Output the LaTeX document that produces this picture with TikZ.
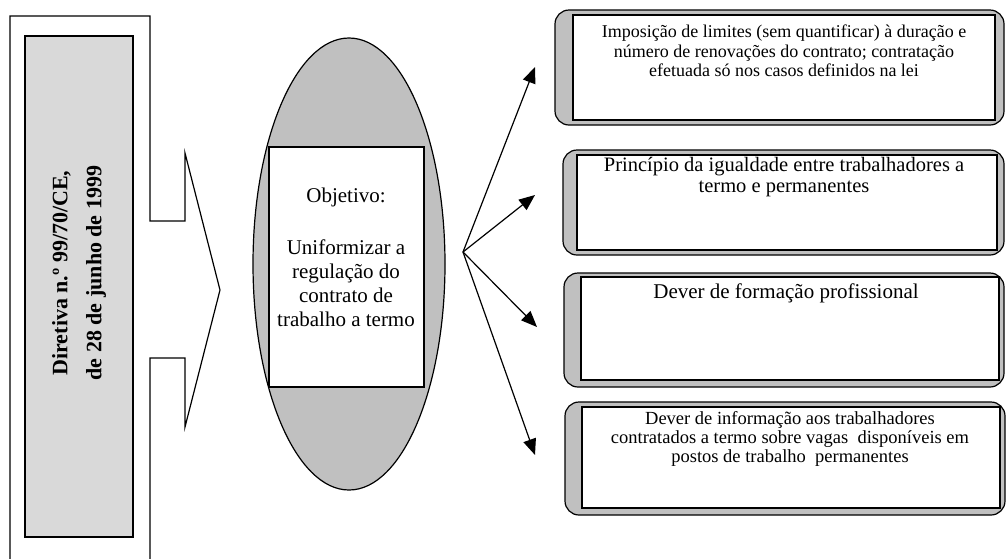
\documentclass[tikz,border=0pt]{standalone}
\usepackage{fontspec}
\setmainfont{Liberation Serif}
\usetikzlibrary{shapes.geometric,arrows.meta}
\definecolor{lgray}{HTML}{D9D9D9}
\definecolor{mgray}{HTML}{C0C0C0}
\begin{document}
\begin{tikzpicture}[x=1pt,y=-1pt,line width=1.2pt,
  outerbox/.style={draw,fill=mgray,rounded corners=14pt,inner sep=0pt},
  innerbox/.style={draw,fill=white,inner sep=0pt,line width=1.5pt},
  conn/.style={-{Triangle[length=16pt,width=13pt]},line width=1.2pt},
  boxtext/.style={align=center,inner sep=0pt}]
\useasboundingbox (0,0) rectangle (1006,558);
\clip (0,0) rectangle (1006,558);
\fill[white] (0,0) rectangle (1006,558);
% left frame with arrow
\draw (10,16) -- (150,16) -- (150,221) -- (185,221) -- (185,153) -- (220,290)
  -- (185,427) -- (185,358) -- (150,358) -- (150,580) -- (10,580) -- cycle;
\node[draw,fill=lgray,minimum width=108pt,minimum height=501pt,inner sep=0pt] (dir) at (79,286.5) {};
\node[rotate=90,align=center,font=\bfseries\fontsize{22}{34}\selectfont] (dirtext) at (79,273)
  {Diretiva n.º 99/70/CE,\\de 28 de junho de 1999};
% ellipse
\node[ellipse,draw,fill=mgray,minimum width=192pt,minimum height=452pt,inner sep=0pt] (ell) at (349,264) {};
\node[innerbox,line width=1.2pt,minimum width=155pt,minimum height=240pt] (obj) at (346.5,267) {};
\node[boxtext,font=\fontsize{21}{24}\selectfont] (objtext) at (346,257)
  {Objetivo:\\[28pt]Uniformizar a\\regulação do\\contrato de\\trabalho a termo};
% right boxes
\node[outerbox,minimum width=449pt,minimum height=115pt] (b1o) at (779.5,67.5) {};
\node[innerbox,minimum width=422pt,minimum height=105pt] (b1) at (784,67.5) {};
\node[boxtext,font=\fontsize{18}{19.5}\selectfont] (b1t) at (784,51)
  {Imposição de limites (sem quantificar) à duração e\\número de renovações do contrato; contratação\\efetuada só nos casos definidos na lei};
\node[outerbox,minimum width=441pt,minimum height=105pt] (b2o) at (783.5,202.5) {};
\node[innerbox,minimum width=420pt,minimum height=95pt] (b2) at (787,202.5) {};
\node[boxtext,font=\fontsize{20.5}{21}\selectfont] (b2t) at (784,177)
  {Princípio da igualdade entre trabalhadores a\\termo e permanentes};
\node[outerbox,minimum width=440pt,minimum height=114pt] (b3o) at (784,330) {};
\node[innerbox,minimum width=418pt,minimum height=103pt] (b3) at (790,328.5) {};
\node[boxtext,font=\fontsize{21}{22}\selectfont] (b3t) at (786,293)
  {Dever de formação profissional};
\node[outerbox,minimum width=440pt,minimum height=113pt] (b4o) at (785,458.5) {};
\node[innerbox,minimum width=418pt,minimum height=101pt] (b4) at (791,457.5) {};
\node[boxtext,font=\fontsize{18.5}{19}\selectfont] (b4t) at (790,438.5)
  {Dever de informação aos trabalhadores\\contratados a termo sobre vagas\ \ disponíveis em\\postos de trabalho\ \ permanentes};
% arrows
\coordinate (o) at (463,252);
\coordinate (t1) at (535,67);
\coordinate (t2) at (535,195);
\coordinate (t3) at (537,327);
\coordinate (t4) at (535,455);
\draw[conn] (o) -- (t1);
\draw[conn] (o) -- (t2);
\draw[conn] (o) -- (t3);
\draw[conn] (o) -- (t4);
\end{tikzpicture}
\end{document}
